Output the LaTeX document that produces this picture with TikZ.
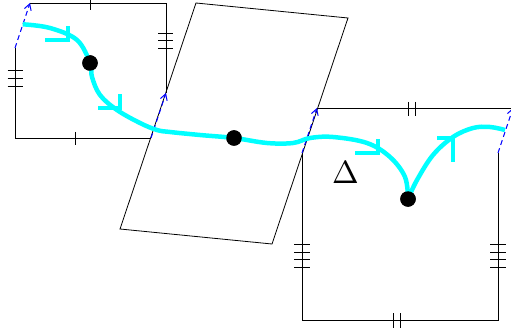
\documentclass[tikz,border=0pt]{standalone}
\usepackage{tikz}
\usetikzlibrary{arrows.meta}
\definecolor{pathcyan}{RGB}{0,255,255}
\definecolor{gluingblue}{RGB}{0,0,255}

\begin{document}
\begin{tikzpicture}[x=1pt, y=-1pt,
    edge/.style={draw=black, line width=0.8pt},
    glue/.style={-{Straight Barb[length=6pt, width=7pt]}, draw=gluingblue, line width=1pt,
                 dash pattern=on 5pt off 3.5pt},
    tick/.style={draw=black, line width=0.8pt},
    curve/.style={draw=pathcyan, line width=4.5pt},
    barb/.style={draw=pathcyan, line width=4pt, miter limit=4},
    dot/.style={circle, fill=black, inner sep=0pt, minimum size=15.5pt}
  ]
    \useasboundingbox (0,0) rectangle (511,331);

    % left square
    \coordinate (la) at (15,138);
    \coordinate (lb) at (151,138);
    \coordinate (lc) at (166,93);
    \coordinate (ld) at (166,3);
    \coordinate (le) at (30,3);
    \coordinate (lf) at (15,48);
    \draw[edge] (lf) -- (la) -- (lb);
    \draw[edge] (lc) -- (ld) -- (le);

    % parallelogram
    \coordinate (pa) at (196,3);
    \coordinate (pb) at (348,18);
    \coordinate (pc) at (272,244);
    \coordinate (pd) at (120,229);
    \draw[edge] (pa) -- (pb) -- (pc) -- (pd) -- cycle;

    % right square
    \coordinate (rg) at (317,108);
    \coordinate (rh) at (513,108);
    \coordinate (ri) at (498,153);
    \coordinate (rj) at (498,320);
    \coordinate (rk) at (302,320);
    \coordinate (rl) at (302,153);
    \draw[edge] (rg) -- (rh);
    \draw[edge] (ri) -- (rj) -- (rk) -- (rl);

    % tick marks
    \draw[tick] (90,-2) -- (90,10);
    \draw[tick] (75,132) -- (75,145);
    \foreach \y in {70.7,78.3,86} \draw[tick] (7.5,\y) -- (22.5,\y);
    \foreach \y in {33,40.7,48.3} \draw[tick] (158,\y) -- (173,\y);
    \foreach \x in {408,415} \draw[tick] (\x,102) -- (\x,116);
    \foreach \x in {393,400} \draw[tick] (\x,313) -- (\x,328);
    \foreach \y in {244.5,252,259.5,267} {
      \draw[tick] (294,\y) -- (310,\y);
      \draw[tick] (490,\y) -- (506,\y);
    }

    % glued edges
    \draw[glue] (lf) -- (le);
    \draw[glue] (lb) -- (lc);
    \draw[glue] (rl) -- (rg);
    \draw[glue] (ri) -- (rh);

    \node[dot] (p1) at (90,63) {};
    \node[dot] (p2) at (234,138) {};
    \node[dot] (p3) at (408,199) {};

    % the path
    \draw[curve] plot[smooth, tension=0.6] coordinates {(22.7,24.3) (50,28) (77,40) (p1.center)
      (92,77) (100,95) (117,110) (140,123) (157,130) (170,132) (200,135) (p2.center)
      (267,143) (293,143) (310,138) (333,137) (367,143) (390,157) (405,177) (p3.center)};
    \draw[curve] plot[smooth, tension=0.6] coordinates {(p3.center) (417,180) (433,155)
      (453,137) (473,128) (490,127) (505,130)};
    \node[dot] at (p1) {};
    \node[dot] at (p2) {};
    \node[dot] at (p3) {};

    \draw[barb] (45,40) -| (68,26);
    \draw[barb] (98,108) -| (120,94);
    \draw[barb] (355,153) -| (378,139);
    \draw[barb] (437,138) -| (453,162);

    \node[scale=3.2] (delta) at (345.5,173) {$\Delta$};
  \end{tikzpicture}
\end{document}
